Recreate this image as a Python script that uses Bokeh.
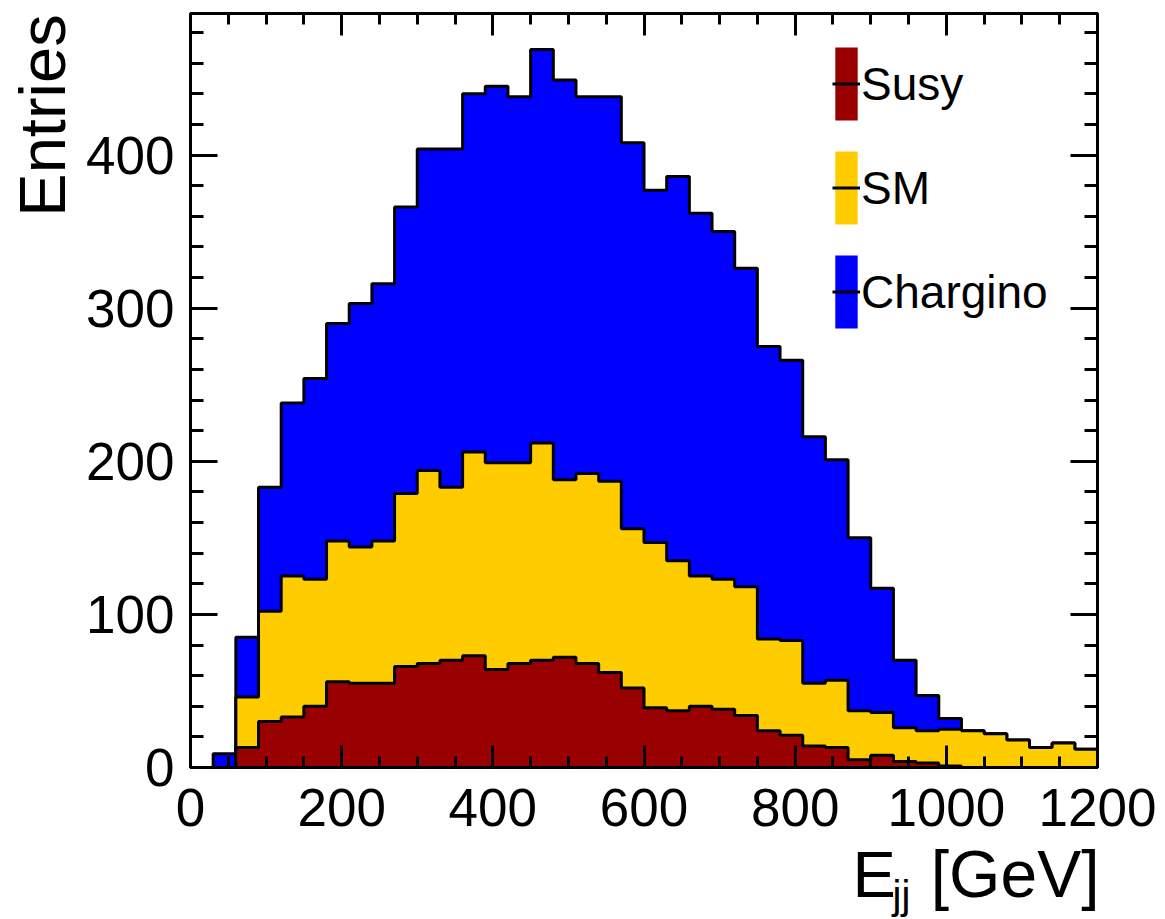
import numpy as np
from bokeh.plotting import figure
from bokeh.layouts import row, column
from bokeh.models import (Range1d, LinearAxis, SingleIntervalTicker, Legend, LegendItem, Label)
from bokeh.embed import file_html
from bokeh.resources import INLINE

# ---- data (30 GeV bins, 0-1200 GeV) ----
bin_edges = list(range(0, 1230, 30))
susy = [0, 0, 13, 30, 33, 40, 56, 55, 55, 66, 68, 70, 73, 64, 68, 70, 72, 68, 62, 52,
        39, 37, 40, 38, 34, 24, 21, 14, 13, 5, 8, 4, 3, 1, 0, 0, 0, 0, 0, 0]
sm = [0, 0, 33, 72, 92, 83, 92, 89, 93, 113, 126, 113, 133, 135, 131, 142, 116, 124, 125, 104,
      108, 98, 85, 85, 84, 60, 62, 41, 44, 32, 28, 22, 21, 24, 24, 22, 18, 13, 16, 12]
chargino = [0, 9, 39, 81, 113, 131, 142, 159, 168, 187, 210, 221, 234, 246, 239, 257, 261, 246, 251, 252,
            230, 251, 237, 227, 208, 191, 183, 161, 144, 113, 81, 44, 23, 7, 0, 0, 0, 0, 0, 0]
names = ["Susy", "SM", "Chargino"]
colors = ["#990000", "#ffcc00", "#0000ff"]
x_ticks_interval = 200
y_ticks_interval = 100
y_title = "Entries"
x_title_main = "E"
x_title_sub = "jj"
x_title_unit = "[GeV]"

FONT = "Liberation Sans"

edges = np.array(bin_edges, dtype=float)
s1 = np.array(susy, dtype=float)
s2 = s1 + np.array(sm, dtype=float)
s3 = s2 + np.array(chargino, dtype=float)
stacks = [s1, s2, s3]
ymax = 1.05 * s3.max()

LEFT_W = 80
MAIN_H = 847
BORDER_B = 80
TOTAL_W, TOTAL_H = 1165, 919
OVERLAP = 24

p = figure(width=TOTAL_W - LEFT_W, height=MAIN_H, x_range=Range1d(0, 1200), y_range=Range1d(0, ymax),
           output_backend="svg", toolbar_location=None,
           min_border_left=110, min_border_right=68, min_border_top=13, min_border_bottom=BORDER_B)
p.xgrid.visible = False
p.ygrid.visible = False
p.outline_line_color = "black"
p.outline_line_width = 3
p.background_fill_color = "white"


def step_path(vals):
    xs = np.repeat(edges, 2)[1:-1]
    ys = np.repeat(vals, 2)
    return xs, ys


renderers = {}
for i in [2, 1, 0]:
    xs, ys = step_path(stacks[i])
    px = np.concatenate([[edges[0]], xs, [edges[-1]]])
    py = np.concatenate([[0.0], ys, [0.0]])
    pr = p.patch(px, py, fill_color=colors[i], line_color=None)
    lr = p.line(np.concatenate([[edges[0]], xs]), np.concatenate([[0.0], ys]),
                line_color="black", line_width=3)
    renderers[i] = (pr, lr)

# axes styling
for ax in [p.xaxis[0], p.yaxis[0]]:
    ax.axis_line_width = 3
    ax.major_tick_line_width = 3
    ax.minor_tick_line_width = 3
    ax.major_tick_out = 0
    ax.minor_tick_out = 0
    ax.major_label_text_font = FONT
    ax.major_label_text_font_size = "53px"
    ax.major_label_text_color = "black"

p.xaxis[0].ticker = SingleIntervalTicker(interval=x_ticks_interval, num_minor_ticks=4)
p.yaxis[0].ticker = SingleIntervalTicker(interval=y_ticks_interval, num_minor_ticks=5)
p.xaxis[0].major_tick_in = 22
p.xaxis[0].minor_tick_in = 11
p.yaxis[0].major_tick_in = 27
p.yaxis[0].minor_tick_in = 13
p.xaxis[0].major_label_standoff = 21
p.yaxis[0].major_label_standoff = 16

top = LinearAxis(ticker=SingleIntervalTicker(interval=x_ticks_interval, num_minor_ticks=4),
                 major_tick_in=22, minor_tick_in=11, major_tick_out=0, minor_tick_out=0,
                 axis_line_width=3, major_tick_line_width=3, minor_tick_line_width=3,
                 major_label_text_font_size="1px", major_label_text_alpha=0, major_label_standoff=0)
right = LinearAxis(ticker=SingleIntervalTicker(interval=y_ticks_interval, num_minor_ticks=5),
                   major_tick_in=27, minor_tick_in=13, major_tick_out=0, minor_tick_out=0,
                   axis_line_width=3, major_tick_line_width=3, minor_tick_line_width=3,
                   major_label_text_font_size="1px", major_label_text_alpha=0, major_label_standoff=0)
p.add_layout(top, "above")
p.add_layout(right, "right")

# legend
items = [LegendItem(label=names[i], renderers=list(renderers[i])) for i in range(3)]
leg = Legend(items=items, location=(642, 430), glyph_width=28, glyph_height=91, spacing=13,
             label_standoff=1, padding=0, margin=0, border_line_color=None,
             background_fill_alpha=0, label_text_font=FONT, label_text_font_size="46px",
             label_text_color="black", label_height=91)
p.add_layout(leg, "center")

# left strip holding the y-axis title (its frame is aligned with the main frame)
lf = figure(width=LEFT_W, height=MAIN_H, x_range=Range1d(0, 1), y_range=Range1d(0, 1), title=None,
            x_axis_type=None, y_axis_type=None, output_backend="svg", toolbar_location=None,
            min_border=0, outline_line_color=None)
frame_bottom = MAIN_H - BORDER_B
lf.add_layout(Label(x=42, y=frame_bottom - 115, x_units="screen", y_units="screen", text=y_title,
                    angle=np.pi / 2, text_align="center", text_baseline="middle",
                    text_font=FONT, text_font_size="65px", text_color="black"))

# bottom strip holding the x-axis title (slightly overlapping, transparent)
BOT_H = TOTAL_H - MAIN_H + OVERLAP
bf = figure(width=TOTAL_W, height=BOT_H, x_range=Range1d(0, 1), y_range=Range1d(0, 1), title=None,
            x_axis_type=None, y_axis_type=None, output_backend="svg", toolbar_location=None,
            min_border=0, outline_line_color=None, background_fill_alpha=0, border_fill_alpha=0,
            styles={"margin-top": "-%dpx" % OVERLAP})
bf.add_layout(Label(x=852, y=TOTAL_H - 910, x_units="screen", y_units="screen", text=x_title_main,
                    text_align="left", text_baseline="bottom",
                    text_font=FONT, text_font_size="65px", text_color="black"))
bf.add_layout(Label(x=892, y=TOTAL_H - 916, x_units="screen", y_units="screen", text=x_title_sub,
                    text_align="left", text_baseline="bottom",
                    text_font=FONT, text_font_size="40px", text_color="black"))
bf.add_layout(Label(x=1099, y=TOTAL_H - 910, x_units="screen", y_units="screen", text=x_title_unit,
                    text_align="right", text_baseline="bottom",
                    text_font=FONT, text_font_size="66px", text_color="black"))

layout = column(row(lf, p), bf)
open("out.html", "w").write(file_html(layout, INLINE))
